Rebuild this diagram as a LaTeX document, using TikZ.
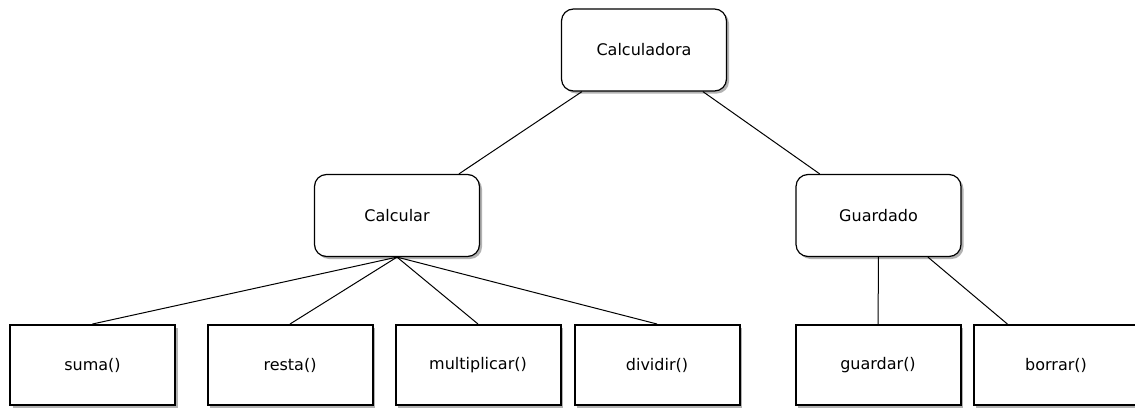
\documentclass[tikz,border=0pt]{standalone}
\usepackage{fontspec}
\setmainfont{DejaVu Sans}
\usetikzlibrary{shadows}
\begin{document}
\begin{tikzpicture}[x=1pt,y=-1pt,
  shade/.style={drop shadow={shadow xshift=2.5pt,shadow yshift=-2.5pt,fill=black!30,opacity=1}},
  group/.style={draw,line width=1.2pt,rounded corners=12pt,fill=white,shade,
    minimum width=165pt,minimum height=82pt,inner sep=0pt,font=\fontsize{16}{19}\selectfont},
  method/.style={draw,line width=2pt,fill=white,shade,
    minimum width=165pt,minimum height=80pt,inner sep=0pt,font=\fontsize{16}{19}\selectfont},
  link/.style={line width=1pt}]
\useasboundingbox (0,0) rectangle (1135,410);
% top level
\node[group] (calc) at (644,50) {Calculadora};
\node[group] (calcular) at (397,215.5) {Calcular};
\node[group] (guardado) at (878.5,215.5) {Guardado};
% operations
\node[method] (suma) at (92.5,365) {suma()};
\node[method] (resta) at (290,365) {resta()};
\node[method] (mult) at (478,365) {multiplicar()};
\node[method] (div) at (657,365) {dividir()};
\node[method] (guardar) at (878,365) {guardar()};
\node[method] (borrar) at (1056,365) {borrar()};
% connectors
\draw[link] (calc) -- (calcular);
\draw[link] (calc) -- (guardado);
\foreach \c in {suma,resta,mult,div}
  \draw[link] (calcular.south) -- (\c.north);
\draw[link] (guardado) -- (guardar);
\draw[link] (guardado) -- (borrar);
\end{tikzpicture}
\end{document}
